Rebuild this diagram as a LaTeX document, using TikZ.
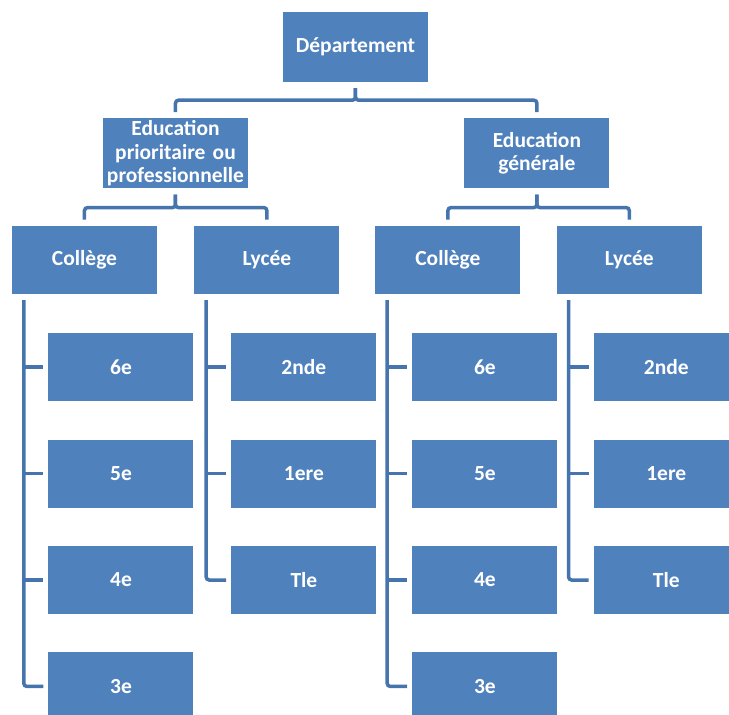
\documentclass[tikz,border=0pt]{standalone}
\usepackage{fontspec}
\setmainfont{Carlito}
\usetikzlibrary{positioning}
\definecolor{boxblue}{HTML}{4F81BD}
\definecolor{lineblue}{HTML}{4674AD}

\begin{document}
\begin{tikzpicture}[
      box/.style={rectangle,fill=boxblue,text=white,minimum width=145pt,minimum height=70pt,
        inner xsep=0pt,inner ysep=1pt,text width=145pt,align=center,
        font=\fontsize{21.5}{23.5}\selectfont\bfseries},
      leaf/.style={box,minimum height=68pt},
      link/.style={draw=lineblue,line width=3.5pt,rounded corners=3pt,shorten <=6pt,shorten >=6pt},
      tick/.style={draw=lineblue,line width=3.5pt,shorten >=5pt},
      node distance=38pt
      ]
      \clip (-355.5pt,47pt) rectangle (373.5pt,-668pt);

      \node[box] (dep) {Département};
      \node[box, below=36pt of dep, xshift=-180pt] (edp) {Education\\prioritaire ou\\professionnelle};
      \node[box, right=216pt of edp] (edg) {Education\\générale};

      \node[leaf, below=37pt of edp, xshift=-91pt] (col1) {Collège};
      \node[leaf, right=37pt of col1] (lyc1) {Lycée};
      \node[leaf, below=37pt of edg, xshift=-89pt] (col2) {Collège};
      \node[leaf, right=36pt of col2] (lyc2) {Lycée};

      \node[leaf, below=39pt of col1, xshift=36.5pt] (p6) {6e};
      \node[leaf, below=of p6] (p5) {5e};
      \node[leaf, below=of p5] (p4) {4e};
      \node[leaf, below=of p4] (p3) {3e};
      \node[leaf, below=39pt of lyc1, xshift=37pt] (p2) {2nde};
      \node[leaf, below=of p2] (p1) {1ere};
      \node[leaf, below=of p1] (pt) {Tle};

      \node[leaf, below=39pt of col2, xshift=37pt] (g6) {6e};
      \node[leaf, below=of g6] (g5) {5e};
      \node[leaf, below=of g5] (g4) {4e};
      \node[leaf, below=of g4] (g3) {3e};
      \node[leaf, below=39pt of lyc2, xshift=37pt] (g2) {2nde};
      \node[leaf, below=of g2] (g1) {1ere};
      \node[leaf, below=of g1] (gt) {Tle};

      \draw[link] (dep.south) -- ++(0,-18pt) -| (edp.north);
      \draw[link] (dep.south) -- ++(0,-18pt) -| (edg.north);
      \draw[link] (edp.south) -- ++(0,-19pt) -| (col1.north);
      \draw[link] (edp.south) -- ++(0,-19pt) -| (lyc1.north);
      \draw[link] (edg.south) -- ++(0,-19pt) -| (col2.north);
      \draw[link] (edg.south) -- ++(0,-19pt) -| (lyc2.north);

      % spines
      \coordinate (s1) at ([xshift=12pt]col1.south west);
      \coordinate (s2) at ([xshift=12pt]lyc1.south west);
      \coordinate (s3) at ([xshift=12pt]col2.south west);
      \coordinate (s4) at ([xshift=12pt]lyc2.south west);

      \draw[link, shorten >=5pt] (s1) |- (p3.west);
      \draw[tick] (s1 |- p6.west) -- (p6.west);
      \draw[tick] (s1 |- p5.west) -- (p5.west);
      \draw[tick] (s1 |- p4.west) -- (p4.west);

      \draw[link, shorten >=5pt] (s2) |- (pt.west);
      \draw[tick] (s2 |- p2.west) -- (p2.west);
      \draw[tick] (s2 |- p1.west) -- (p1.west);

      \draw[link, shorten >=5pt] (s3) |- (g3.west);
      \draw[tick] (s3 |- g6.west) -- (g6.west);
      \draw[tick] (s3 |- g5.west) -- (g5.west);
      \draw[tick] (s3 |- g4.west) -- (g4.west);

      \draw[link, shorten >=5pt] (s4) |- (gt.west);
      \draw[tick] (s4 |- g2.west) -- (g2.west);
      \draw[tick] (s4 |- g1.west) -- (g1.west);
    \end{tikzpicture}
\end{document}
